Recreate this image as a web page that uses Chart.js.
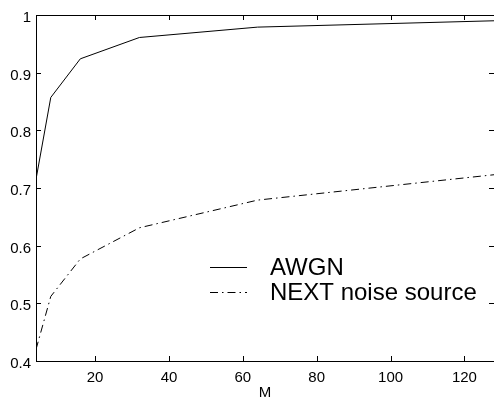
<!DOCTYPE html>
<html>
<head>
<meta charset="utf-8">
<script src="https://cdn.jsdelivr.net/npm/chart.js"></script>
<style>
html, body { margin: 0; padding: 0; background: #fff; }
</style>
</head>
<body>
<canvas id="chart" width="494" height="400"></canvas>
<script>
var mValues = [4, 8, 16, 32, 64, 128];
var awgn = [0.715, 0.857, 0.924, 0.961, 0.979, 0.990];
var nextNoise = [0.42, 0.512, 0.577, 0.631, 0.679, 0.723];
var xTicks = [20, 40, 60, 80, 100, 120];
var yTicks = [0.4, 0.5, 0.6, 0.7, 0.8, 0.9, 1];
var seriesNames = ['AWGN', 'NEXT noise source'];

var FONT = '"Liberation Sans", Arial, Helvetica, sans-serif';
var dashDot = [8, 4, 1.5, 4];

function pairs(ys) {
  var out = [];
  for (var i = 0; i < mValues.length; i++) {
    out.push({ x: mValues[i], y: ys[i] });
  }
  return out;
}

// matlab style box with inward ticks
var frame = {
  id: 'frame',
  afterDraw: function(chart) {
    var c = chart.ctx;
    var a = chart.chartArea;
    var xs = chart.scales.x, ys = chart.scales.y;
    c.save();
    c.strokeStyle = '#000';
    c.lineWidth = 1;
    c.beginPath();
    c.rect(a.left + 0.5, a.top + 0.5, a.right - a.left, a.bottom - a.top);
    xTicks.forEach(function(t) {
      var px = Math.round(xs.getPixelForValue(t)) + 0.5;
      c.moveTo(px, a.bottom); c.lineTo(px, a.bottom - 5);
      c.moveTo(px, a.top); c.lineTo(px, a.top + 5);
    });
    yTicks.forEach(function(t) {
      var py = Math.round(ys.getPixelForValue(t)) + 0.5;
      c.moveTo(a.left, py); c.lineTo(a.left + 5, py);
      c.moveTo(a.right, py); c.lineTo(a.right - 5, py);
    });
    c.stroke();
    c.restore();
  }
};

var legendBox = {
  id: 'legendBox',
  afterDraw: function(chart) {
    var c = chart.ctx;
    var a = chart.chartArea;
    var x0 = a.left + 174, y0 = a.top + 252;
    c.save();
    c.font = '24px ' + FONT;
    c.fillStyle = '#000';
    c.textBaseline = 'middle';
    chart.data.datasets.forEach(function(ds, i) {
      var y = y0 + i * 25 + 0.5;
      c.strokeStyle = '#000';
      c.lineWidth = 1;
      c.setLineDash(ds.borderDash || []);
      c.beginPath();
      c.moveTo(x0, y); c.lineTo(x0 + 37, y);
      c.stroke();
      c.setLineDash([]);
      c.fillText(ds.label, x0 + 60, y + 1);
    });
    c.restore();
  }
};

var chart = new Chart(document.getElementById('chart').getContext('2d'), {
  type: 'line',
  data: {
    datasets: [{
      label: seriesNames[0],
      data: pairs(awgn),
      borderColor: '#000',
      borderWidth: 1,
      pointRadius: 0,
      tension: 0,
      fill: false
    }, {
      label: seriesNames[1],
      data: pairs(nextNoise),
      borderColor: '#000',
      borderWidth: 1,
      borderDash: dashDot,
      pointRadius: 0,
      tension: 0,
      fill: false
    }]
  },
  options: {
    responsive: false,
    animation: false,
    devicePixelRatio: 1,
    layout: { padding: { top: 15, right: 0, left: 0, bottom: 0 } },
    plugins: { legend: { display: false }, tooltip: { enabled: false } },
    scales: {
      x: {
        type: 'linear',
        min: 4,
        max: 128,
        afterBuildTicks: function(scale) {
          scale.ticks = xTicks.map(function(v) { return { value: v }; });
        },
        afterFit: function(scale) { scale.height = 39; },
        grid: { display: false, drawTicks: false },
        border: { display: false },
        ticks: {
          color: '#000',
          font: { family: FONT, size: 15 },
          padding: 8,
          maxRotation: 0,
          autoSkip: false
        },
        title: {
          display: true,
          text: 'M',
          color: '#000',
          font: { family: FONT, size: 15, lineHeight: 1 },
          padding: 0
        }
      },
      y: {
        type: 'linear',
        min: 0.4,
        max: 1,
        afterBuildTicks: function(scale) {
          scale.ticks = yTicks.map(function(v) { return { value: v }; });
        },
        afterFit: function(scale) { scale.width = 36; },
        grid: { display: false, drawTicks: false },
        border: { display: false },
        ticks: {
          color: '#000',
          font: { family: FONT, size: 15 },
          padding: 5,
          labelOffset: 3,
          autoSkip: false,
          callback: function(v) { return String(+v.toFixed(1)); }
        }
      }
    }
  },
  plugins: [frame, legendBox]
});
</script>
</body>
</html>
